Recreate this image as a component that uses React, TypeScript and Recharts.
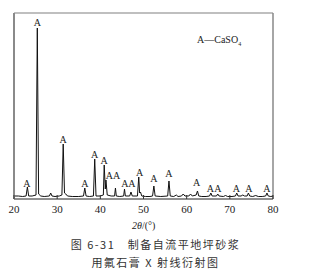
import React from 'react';
import {
  ComposedChart,
  Line,
  Scatter,
  XAxis,
  YAxis,
  ReferenceLine
} from 'recharts';

// XRD pattern: 2θ (deg) and intensity (arbitrary, ~px)
const THETA = [
  20.0, 21.0, 22.0, 22.8, 23.1, 23.4, 24.2, 25.1, 25.4, 25.7, 26.2, 27.0, 28.2, 28.5, 28.8,
  29.5, 30.5, 31.1, 31.4, 31.7, 32.0, 32.4, 33.5, 35.0, 36.1, 36.4, 36.7, 37.5, 38.4, 38.7,
  39.0, 40.0, 40.7, 40.9, 41.15, 41.3, 41.6, 42.5, 43.3, 43.5, 43.7, 44.5, 45.4, 45.6, 45.8,
  46.8, 47.1, 47.4, 48.6, 48.9, 49.1, 49.3, 49.6, 50.5, 51.5, 52.1, 52.4, 52.7, 54.0, 55.6,
  55.9, 56.2, 57.0, 57.6, 58.0, 58.8, 59.2, 59.6, 60.5, 60.9, 61.3, 62.2, 62.5, 62.8, 63.5,
  64.5, 65.3, 65.6, 65.9, 66.9, 67.2, 67.5, 68.5, 69.0, 69.5, 70.5, 71.3, 71.6, 71.9, 72.6,
  73.0, 73.4, 74.0, 74.3, 74.6, 75.3, 76.0, 76.6, 77.5, 78.3, 78.6, 78.9, 79.5, 80.0
];
const INTENSITY = [
  3, 3, 2.5, 3, 12, 3, 3, 4, 171, 5, 3, 2.5, 3, 6, 3,
  2.5, 3, 4, 55, 6, 5, 3, 2.5, 2.5, 3, 11, 3, 2.5, 3, 40,
  3, 3, 4, 34, 10, 19, 4, 3, 3, 11, 3, 2.5, 3, 10, 3,
  3, 7, 3, 3, 22, 6, 7, 3, 2.5, 2.5, 3, 13, 3, 2.5, 3,
  18, 3, 2.5, 4, 2.5, 3, 5, 3, 3, 5, 3, 4, 8, 3, 2.5,
  2.5, 3, 6, 3, 3, 5, 3, 2.5, 3.5, 2.5, 2.5, 3, 6, 3, 3,
  4, 3, 3, 6, 3, 2.5, 3.5, 2.5, 2.5, 3, 6, 3, 2.5, 3
];

// "A" peak markers: 2θ and level of the label
const LABEL_THETA = [23.0, 25.4, 31.4, 36.4, 38.7, 40.9, 42.1, 43.8, 45.7, 47.3, 49.1, 52.4, 55.9, 62.3, 65.5, 67.2, 71.5, 74.4, 78.6];
const LABEL_LEVEL = [16, 177, 60, 16, 45, 39, 24, 24, 16, 16, 27, 21, 26, 17, 11, 11, 11, 11, 11];

const X_TICKS = [20, 30, 40, 50, 60, 70, 80];

const pattern = THETA.map((t, i) => ({ theta: t, intensity: INTENSITY[i] }));
const labels = LABEL_THETA.map((t, i) => ({ theta: t, level: LABEL_LEVEL[i] }));

const serif = '"Liberation Serif", "DejaVu Serif", serif';

const XTick = ({ x, y, payload }: any) => (
  <g>
    <line x1={x} x2={x} y1={y - 1} y2={y - 5} stroke="#333" strokeWidth={1} />
    <text x={x} y={y + 13} textAnchor="middle" fontSize={11} fontFamily={serif} fill="#222">
      {payload.value}
    </text>
  </g>
);

const PeakLabel = ({ cx, cy }: any) => (
  <text x={cx} y={cy + 3.5} textAnchor="middle" fontSize={10} fontFamily={serif} fill="#222">
    A
  </text>
);

export default function App() {
  return (
    <div style={{ position: 'absolute', left: 0, top: 0, width: 311, height: 271, background: '#fff' }}>
      <ComposedChart width={311} height={271} margin={{ top: 13, right: 38, bottom: 52, left: 12 }}>
        <XAxis
          type="number"
          dataKey="theta"
          domain={[20, 80]}
          ticks={X_TICKS}
          allowDataOverflow
          height={20}
          tickSize={1}
          tickMargin={0}
          tickLine={false}
          tick={<XTick />}
          axisLine={{ stroke: '#222', strokeWidth: 1 }}
        />
        <YAxis
          type="number"
          domain={[0, 186]}
          width={2}
          tick={false}
          tickLine={false}
          axisLine={{ stroke: '#8a8a8a', strokeWidth: 2 }}
        />
        <ReferenceLine y={186} stroke="#aaa" strokeWidth={1.5} />
        <ReferenceLine x={80} stroke="#888" strokeWidth={1.5} />
        <Line
          data={pattern}
          dataKey="intensity"
          type="linear"
          stroke="#111"
          strokeWidth={1}
          dot={false}
          isAnimationActive={false}
        />
        <Scatter data={labels} dataKey="level" shape={<PeakLabel />} isAnimationActive={false} />
      </ComposedChart>

      <div style={{ position: 'absolute', left: 197, top: 34, fontFamily: serif, fontSize: 10, color: '#222', whiteSpace: 'nowrap' }}>
        A—CaSO<sub style={{ fontSize: 6 }}>4</sub>
      </div>
      <div style={{ position: 'absolute', left: 132, top: 220, fontFamily: serif, fontSize: 10, color: '#222', whiteSpace: 'nowrap' }}>
        <i>2θ</i>/(°)
      </div>
      <div style={{ position: 'absolute', left: 0, top: 236, width: 311, textAlign: 'center', fontFamily: '"Noto Sans CJK SC", sans-serif', fontSize: 11, letterSpacing: 1.5, color: '#333', whiteSpace: 'nowrap' }}>
        图 6-31　制备自流平地坪砂浆
      </div>
      <div style={{ position: 'absolute', left: 0, top: 254, width: 311, textAlign: 'center', fontFamily: '"Noto Sans CJK SC", sans-serif', fontSize: 11, letterSpacing: 1.5, color: '#333', whiteSpace: 'nowrap' }}>
        用氟石膏 X 射线衍射图
      </div>
    </div>
  );
}
